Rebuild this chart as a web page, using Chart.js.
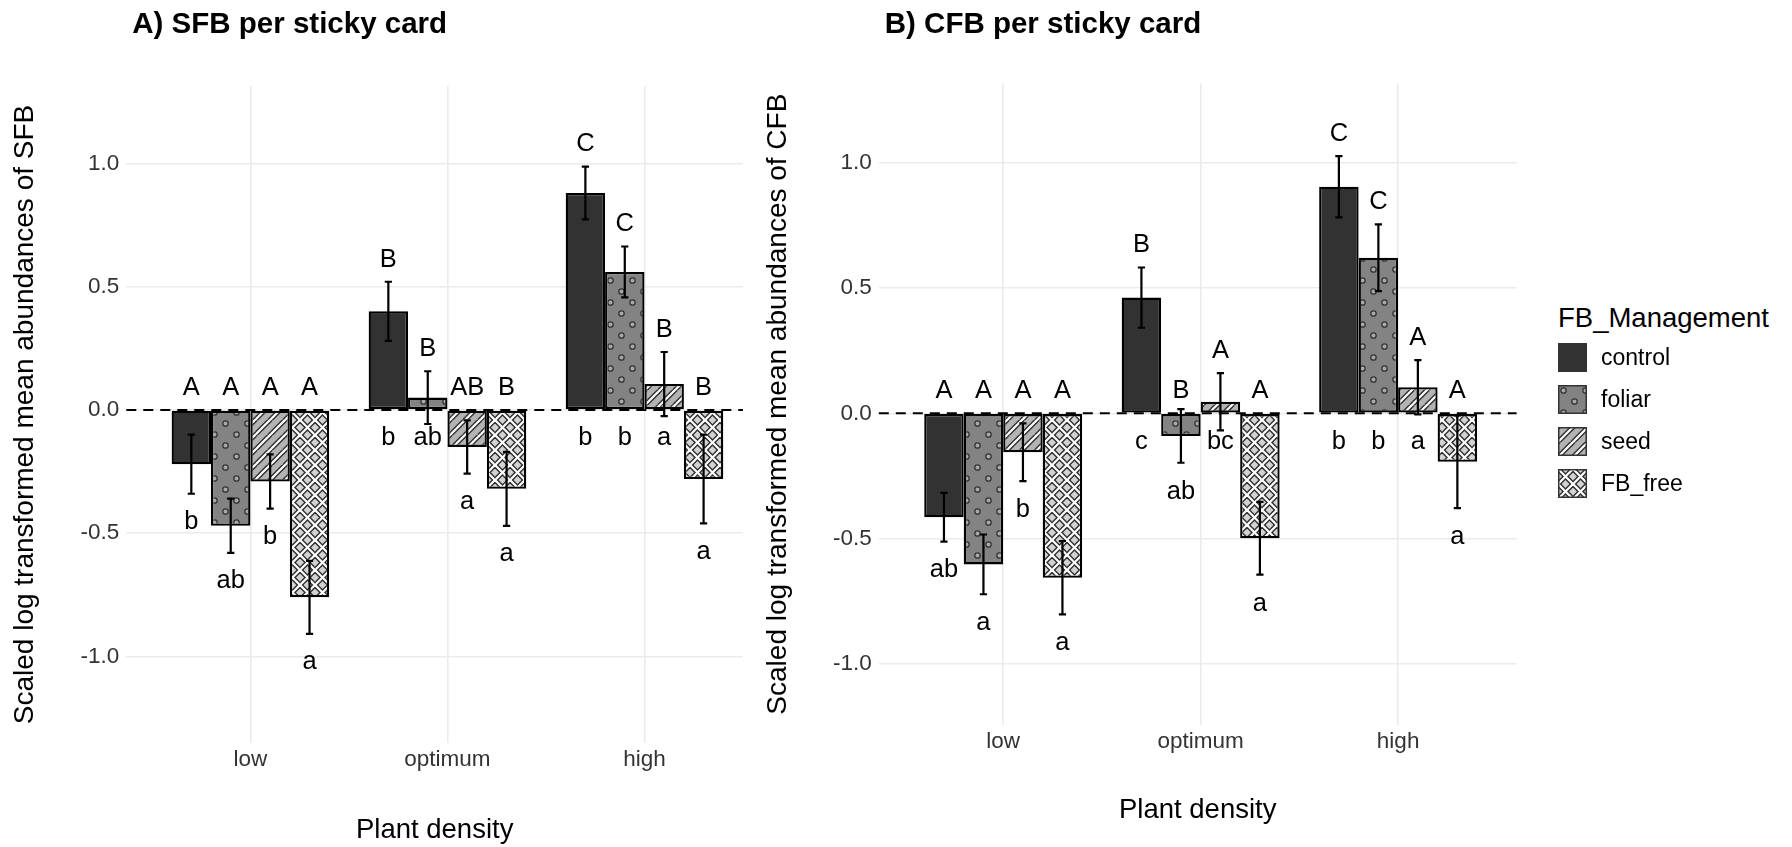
<!DOCTYPE html>
<html>
<head>
<meta charset="utf-8">
<script src="https://cdn.jsdelivr.net/npm/chart.js@4.4.1/dist/chart.umd.min.js"></script>
<style>
    body { margin: 0; background: #fff; width: 1792px; height: 847px; overflow: hidden; position: relative;
           font-family: "Liberation Sans", Arial, Helvetica, sans-serif; }
    #panelA { position: absolute; left: 0; top: 0; }
    #panelB { position: absolute; left: 752px; top: 0; }
    #legend { position: absolute; left: 0; top: 0; }
    .lg-title { position: absolute; left: 1558px; top: 301px; font-size: 27.5px; line-height: 33px; color: #000; white-space: nowrap; }
    .lg-row { position: absolute; left: 1558px; height: 29px; display: flex; align-items: center; }
    .lg-row canvas { width: 29px; height: 29px; }
    .lg-row span { margin-left: 14px; font-size: 23px; color: #000; white-space: nowrap; }
</style>
</head>
<body>
<canvas id="panelA" width="752" height="847"></canvas>
<canvas id="panelB" width="780" height="847"></canvas>
<div id="legend"></div>

<script>
// --- DATA ---
const densities = ['low', 'optimum', 'high'];
const treatments = ['control', 'foliar', 'seed', 'FB_free'];
const yTicks = [-1.0, -0.5, 0.0, 0.5, 1.0];

// SFB: one row per treatment, one value per density (low, optimum, high)
const sfbMeans = [
    [-0.22, 0.40, 0.88],
    [-0.47, 0.05, 0.56],
    [-0.29, -0.15, 0.105],
    [-0.76, -0.32, -0.28]
];
const sfbSe = [
    [0.12, 0.12, 0.107],
    [0.11, 0.107, 0.103],
    [0.11, 0.108, 0.13],
    [0.148, 0.15, 0.18]
];
const sfbUpper = [['A', 'B', 'C'], ['A', 'B', 'C'], ['A', 'AB', 'B'], ['A', 'B', 'B']];
const sfbLower = [['b', 'b', 'b'], ['ab', 'ab', 'b'], ['b', 'a', 'a'], ['a', 'a', 'a']];

// CFB
const cfbMeans = [
    [-0.414, 0.461, 0.903],
    [-0.602, -0.09, 0.62],
    [-0.155, 0.046, 0.104],
    [-0.655, -0.498, -0.193]
];
const cfbSe = [
    [0.097, 0.12, 0.122],
    [0.119, 0.107, 0.133],
    [0.115, 0.114, 0.108],
    [0.146, 0.145, 0.185]
];
const cfbUpper = [['A', 'B', 'C'], ['A', 'B', 'C'], ['A', 'A', 'A'], ['A', 'A', 'A']];
const cfbLower = [['ab', 'c', 'b'], ['a', 'ab', 'b'], ['b', 'bc', 'a'], ['a', 'a', 'a']];

const FONT = '"Liberation Sans", Arial, Helvetica, sans-serif';
Chart.defaults.font.family = FONT;

// --- PATTERN FILLS (ggpattern look) ---
function makePattern(kind, base) {
    const size = kind === 'dots' ? 22 : 15;
    const c = document.createElement('canvas');
    c.width = c.height = size;
    const g = c.getContext('2d');
    g.fillStyle = base;
    g.fillRect(0, 0, size, size);
    if (kind === 'dots') {
        [[5.5, 5.5], [16.5, 16.5]].forEach(([x, y]) => {
            g.beginPath();
            g.arc(x, y, 2.7, 0, Math.PI * 2);
            g.fillStyle = '#a8a8a8';
            g.fill();
            g.lineWidth = 1.3;
            g.strokeStyle = '#333';
            g.stroke();
        });
    } else {
        const dirs = kind === 'stripes' ? [1] : [1, -1];
        const lines = (w, col) => {
            g.lineWidth = w;
            g.strokeStyle = col;
            dirs.forEach(d => {
                for (let k = -1; k <= 1; k++) {
                    g.beginPath();
                    if (d === 1) { g.moveTo(k * size - 1, size + 1); g.lineTo(k * size + size + 1, -1); }
                    else { g.moveTo(k * size - 1, -1); g.lineTo(k * size + size + 1, size + 1); }
                    g.stroke();
                }
            });
        };
        lines(5, '#2e2e2e');
        lines(2.2, '#ffffff');
    }
    return g.createPattern(c, 'repeat');
}

const fills = [
    '#323232',
    makePattern('dots', '#838383'),
    makePattern('stripes', '#b3b3b3'),
    makePattern('hatch', '#d2d2d2')
];

// --- PLUGINS: title nudge, zero line, error bars, letters ---
const titleNudge = {
    id: 'titleNudge',
    afterLayout(chart) {
        if (chart.titleBlock) {
            chart.titleBlock.left += 6;
            chart.titleBlock.right += 6;
        }
    }
};

const zeroLine = {
    id: 'zeroLine',
    beforeDatasetsDraw(chart) {
        const { ctx, chartArea, scales } = chart;
        const y = scales.y.getPixelForValue(0);
        ctx.save();
        ctx.setLineDash([10, 7]);
        ctx.lineWidth = 2;
        ctx.strokeStyle = '#000';
        ctx.beginPath();
        ctx.moveTo(chartArea.left, y);
        ctx.lineTo(chartArea.right, y);
        ctx.stroke();
        ctx.restore();
    }
};

const errorsAndLetters = {
    id: 'errorsAndLetters',
    afterDatasetsDraw(chart) {
        const { ctx, scales } = chart;
        const yS = scales.y;
        ctx.save();
        chart.data.datasets.forEach((ds, i) => {
            const meta = chart.getDatasetMeta(i);
            meta.data.forEach((bar, j) => {
                const m = ds.data[j].y;
                const s = ds.se[j];
                const top = yS.getPixelForValue(m + s);
                const bot = yS.getPixelForValue(m - s);
                ctx.strokeStyle = '#000';
                ctx.lineWidth = 2.2;
                ctx.beginPath();
                ctx.moveTo(bar.x, top); ctx.lineTo(bar.x, bot);
                ctx.moveTo(bar.x - 3.6, top); ctx.lineTo(bar.x + 3.6, top);
                ctx.moveTo(bar.x - 3.6, bot); ctx.lineTo(bar.x + 3.6, bot);
                ctx.stroke();

                // capital letters above, small letters below
                const upY = (m >= 0 ? m + s : 0) + 0.09;
                const lowY = (m >= 0 ? 0 : m - s) - 0.115;
                ctx.fillStyle = '#000';
                ctx.font = '25.5px ' + FONT;
                ctx.textAlign = 'center';
                ctx.textBaseline = 'middle';
                ctx.fillText(ds.upper[j], bar.x, yS.getPixelForValue(upY));
                ctx.fillText(ds.lower[j], bar.x, yS.getPixelForValue(lowY));
            });
        });
        ctx.restore();
    }
};

function buildPanel(id, cfg) {
    const datasets = treatments.map((t, i) => ({
        label: t,
        data: cfg.means[i].map((v, j) => ({ x: j + 1, y: v })),
        se: cfg.se[i],
        upper: cfg.upper[i],
        lower: cfg.lower[i],
        backgroundColor: fills[i],
        borderColor: '#000',
        borderWidth: 2.3,
        borderSkipped: false,
        categoryPercentage: 0.8,
        barPercentage: 1.0
    }));

    return new Chart(document.getElementById(id), {
        type: 'bar',
        data: { datasets },
        options: {
            responsive: false,
            animation: false,
            devicePixelRatio: 1,
            layout: { padding: { left: 0, right: cfg.padRight, top: 0, bottom: cfg.padBottom } },
            plugins: {
                legend: { display: false },
                tooltip: { enabled: false },
                title: {
                    display: true,
                    text: cfg.title,
                    align: 'start',
                    fullSize: false,
                    color: '#000',
                    font: { size: 29.5, weight: 'bold' },
                    padding: { top: 7, bottom: cfg.titleGap }
                }
            },
            scales: {
                x: {
                    type: 'linear',
                    min: 0.37,
                    max: cfg.xMax,
                    offset: false,
                    grid: { color: '#ebebeb', lineWidth: 1.6, drawTicks: false, offset: false },
                    border: { display: false },
                    afterBuildTicks: axis => { axis.ticks = densities.map((d, k) => ({ value: k + 1 })); },
                    afterFit: axis => { axis.height = cfg.xHeight; },
                    ticks: {
                        autoSkip: false,
                        padding: 3.5,
                        color: '#333',
                        font: { size: 22.5 },
                        callback: v => densities[v - 1]
                    },
                    title: {
                        display: true,
                        text: 'Plant density',
                        color: '#000',
                        font: { size: 27.5 },
                        padding: { top: 0, bottom: 0.5 }
                    }
                },
                y: {
                    min: cfg.yMin,
                    max: cfg.yMax,
                    grid: { color: '#ebebeb', lineWidth: 1.6, drawTicks: false },
                    border: { display: false },
                    afterBuildTicks: axis => { axis.ticks = yTicks.map(v => ({ value: v })); },
                    afterFit: axis => { axis.width = cfg.yWidth; },
                    ticks: {
                        padding: 7,
                        color: '#333',
                        font: { size: 22.5 },
                        callback: v => v.toFixed(1)
                    },
                    title: {
                        display: true,
                        text: cfg.yTitle,
                        color: '#000',
                        font: { size: 28 },
                        padding: { top: cfg.yTitlePad, bottom: 0 }
                    }
                }
            }
        },
        plugins: [titleNudge, zeroLine, errorsAndLetters]
    });
}

buildPanel('panelA', {
    means: sfbMeans, se: sfbSe, upper: sfbUpper, lower: sfbLower,
    title: 'A) SFB per sticky card',
    yTitle: 'Scaled log transformed mean abundances of SFB',
    yMin: -1.351, yMax: 1.314, xMax: 3.5,
    padRight: 9, padBottom: 0, titleGap: 43.6, xHeight: 104,
    yWidth: 126.3, yTitlePad: 8
});

buildPanel('panelB', {
    means: cfbMeans, se: cfbSe, upper: cfbUpper, lower: cfbLower,
    title: 'B) CFB per sticky card',
    yTitle: 'Scaled log transformed mean abundances of CFB',
    yMin: -1.242, yMax: 1.315, xMax: 3.6,
    padRight: 15.4, padBottom: 20, titleGap: 40.9, xHeight: 102,
    yWidth: 126.8, yTitlePad: 9.5
});

// --- LEGEND (HTML) ---
const legend = document.getElementById('legend');
legend.innerHTML = '<div class="lg-title">FB_Management</div>';
treatments.forEach((t, i) => {
    const row = document.createElement('div');
    row.className = 'lg-row';
    row.style.top = (342.7 + i * 42.1) + 'px';
    const key = document.createElement('canvas');
    key.width = 29; key.height = 29;
    const g = key.getContext('2d');
    g.fillStyle = fills[i];
    g.fillRect(0, 0, 29, 29);
    g.lineWidth = 1.5;
    g.strokeStyle = '#333';
    g.strokeRect(0.75, 0.75, 27.5, 27.5);
    const label = document.createElement('span');
    label.textContent = t;
    row.appendChild(key);
    row.appendChild(label);
    legend.appendChild(row);
});
</script>
</body>
</html>
